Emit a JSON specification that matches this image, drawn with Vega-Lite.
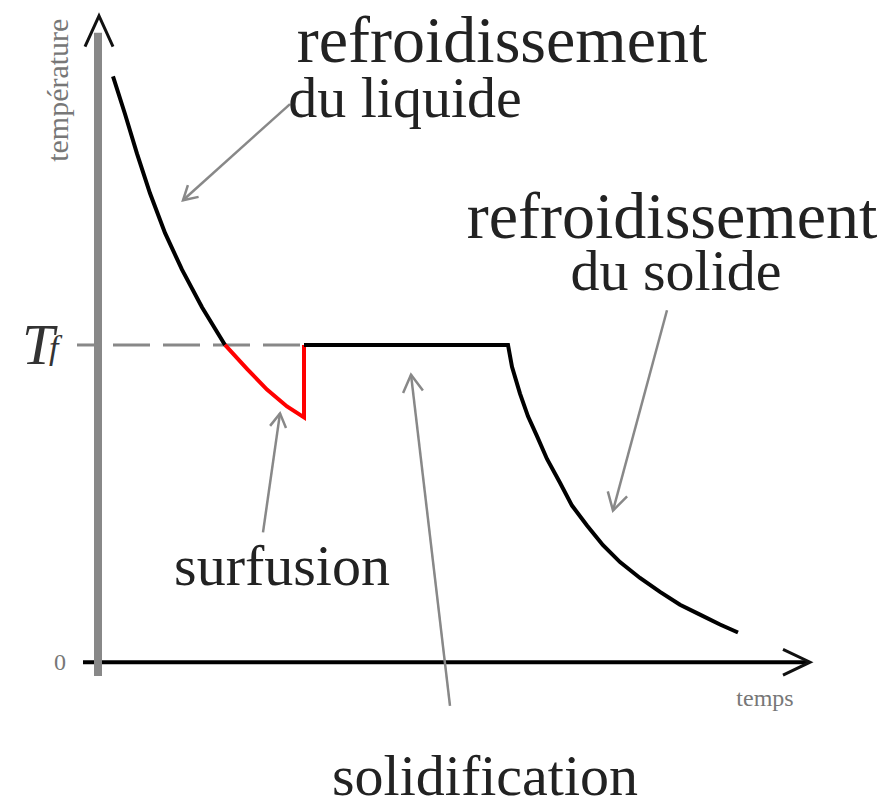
{
  "$schema": "https://vega.github.io/schema/vega-lite/v6.json",
  "width": 889,
  "height": 807,
  "autosize": {"type": "fit", "contains": "padding"},
  "padding": 0,
  "background": "white",
  "config": {"view": {"stroke": null}, "text": {"font": "Liberation Serif"}},
  "datasets": {
    "curve": [
      {"s": "liquide", "i": 1, "t": 1.5, "T": 59.1},
      {"s": "liquide", "i": 2, "t": 2.7, "T": 55.3},
      {"s": "liquide", "i": 3, "t": 3.9, "T": 51.3},
      {"s": "liquide", "i": 4, "t": 5.2, "T": 47.3},
      {"s": "liquide", "i": 5, "t": 6.7, "T": 43.3},
      {"s": "liquide", "i": 6, "t": 8.4, "T": 39.6},
      {"s": "liquide", "i": 7, "t": 10.4, "T": 35.8},
      {"s": "liquide", "i": 8, "t": 12.7, "T": 32.0},
      {"s": "surfusion", "i": 1, "t": 12.7, "T": 32.0},
      {"s": "surfusion", "i": 2, "t": 14.9, "T": 29.6},
      {"s": "surfusion", "i": 3, "t": 16.9, "T": 27.5},
      {"s": "surfusion", "i": 4, "t": 18.9, "T": 25.8},
      {"s": "surfusion", "i": 5, "t": 20.6, "T": 24.7},
      {"s": "surfusion", "i": 6, "t": 20.6, "T": 32.0},
      {"s": "solide", "i": 1, "t": 20.6, "T": 32.0},
      {"s": "solide", "i": 2, "t": 41.0, "T": 32.0},
      {"s": "solide", "i": 3, "t": 41.4, "T": 29.8},
      {"s": "solide", "i": 4, "t": 42.2, "T": 27.1},
      {"s": "solide", "i": 5, "t": 43.0, "T": 24.8},
      {"s": "solide", "i": 6, "t": 43.9, "T": 22.8},
      {"s": "solide", "i": 7, "t": 44.9, "T": 20.5},
      {"s": "solide", "i": 8, "t": 46.2, "T": 18.1},
      {"s": "solide", "i": 9, "t": 47.4, "T": 15.8},
      {"s": "solide", "i": 10, "t": 48.9, "T": 13.8},
      {"s": "solide", "i": 11, "t": 50.5, "T": 11.8},
      {"s": "solide", "i": 12, "t": 52.2, "T": 10.1},
      {"s": "solide", "i": 13, "t": 54.2, "T": 8.5},
      {"s": "solide", "i": 14, "t": 56.2, "T": 7.1},
      {"s": "solide", "i": 15, "t": 58.2, "T": 5.8},
      {"s": "solide", "i": 16, "t": 60.2, "T": 4.8},
      {"s": "solide", "i": 17, "t": 62.2, "T": 3.8},
      {"s": "solide", "i": 18, "t": 64.0, "T": 3.0}
    ],
    "strokes": [
      {"kind": "xaxis", "part": "xaxis", "i": 1, "t": -1.5, "T": 0},
      {"kind": "xaxis", "part": "xaxis", "i": 2, "t": 71.0, "T": 0},
      {"kind": "yaxis", "part": "yaxis", "i": 1, "t": 0, "T": -1.4},
      {"kind": "yaxis", "part": "yaxis", "i": 2, "t": 0, "T": 63.5},
      {"kind": "head", "part": "yhead", "i": 1, "t": -1.3, "T": 62.1},
      {"kind": "head", "part": "yhead", "i": 2, "t": 0.1, "T": 65.2},
      {"kind": "head", "part": "yhead", "i": 3, "t": 1.5, "T": 62.1},
      {"kind": "head", "part": "xhead", "i": 1, "t": 68.5, "T": 1.3},
      {"kind": "head", "part": "xhead", "i": 2, "t": 71.2, "T": 0},
      {"kind": "head", "part": "xhead", "i": 3, "t": 68.5, "T": -1.3},
      {"kind": "tick", "part": "tick", "i": 1, "t": -2.1, "T": 32},
      {"kind": "tick", "part": "tick", "i": 2, "t": 0, "T": 32},
      {"kind": "dash", "part": "dash", "i": 1, "t": 1.5, "T": 32},
      {"kind": "dash", "part": "dash", "i": 2, "t": 20.4, "T": 32},
      {"kind": "annot", "part": "liq_shaft", "i": 1, "t": 19.2, "T": 56.3},
      {"kind": "annot", "part": "liq_shaft", "i": 2, "t": 8.5, "T": 46.6},
      {"kind": "annot", "part": "liq_head", "i": 1, "t": 10.06, "T": 46.94},
      {"kind": "annot", "part": "liq_head", "i": 2, "t": 8.5, "T": 46.6},
      {"kind": "annot", "part": "liq_head", "i": 3, "t": 8.99, "T": 48.12},
      {"kind": "annot", "part": "sur_shaft", "i": 1, "t": 16.5, "T": 13.1},
      {"kind": "annot", "part": "sur_shaft", "i": 2, "t": 18.2, "T": 25.1},
      {"kind": "annot", "part": "sur_head", "i": 1, "t": 17.21, "T": 23.84},
      {"kind": "annot", "part": "sur_head", "i": 2, "t": 18.2, "T": 25.1},
      {"kind": "annot", "part": "sur_head", "i": 3, "t": 18.8, "T": 23.62},
      {"kind": "annot", "part": "sol_shaft", "i": 1, "t": 35.2, "T": -4.4},
      {"kind": "annot", "part": "sol_shaft", "i": 2, "t": 31.3, "T": 29.0},
      {"kind": "annot", "part": "sol_head", "i": 1, "t": 30.51, "T": 27.16},
      {"kind": "annot", "part": "sol_head", "i": 2, "t": 31.3, "T": 29.0},
      {"kind": "annot", "part": "sol_head", "i": 3, "t": 32.49, "T": 27.4},
      {"kind": "annot", "part": "sd_shaft", "i": 1, "t": 56.9, "T": 35.5},
      {"kind": "annot", "part": "sd_shaft", "i": 2, "t": 51.5, "T": 15.3},
      {"kind": "annot", "part": "sd_head", "i": 1, "t": 52.91, "T": 16.72},
      {"kind": "annot", "part": "sd_head", "i": 2, "t": 51.5, "T": 15.3},
      {"kind": "annot", "part": "sd_head", "i": 3, "t": 50.98, "T": 17.23}
    ],
    "labels": [
      {"g": "title", "text": "refroidissement", "t": 40.4, "T": 60.5},
      {"g": "title", "text": "refroidissement", "t": 57.4, "T": 42.8},
      {"g": "label", "text": "du liquide", "t": 30.7, "T": 55.0},
      {"g": "label", "text": "du solide", "t": 57.8, "T": 37.5},
      {"g": "label", "text": "surfusion", "t": 18.4, "T": 7.8},
      {"g": "label", "text": "solidification", "t": 38.7, "T": -13.4},
      {"g": "small", "text": "temps", "t": 66.7, "T": -4.4},
      {"g": "small", "text": "0", "t": -3.8, "T": -0.8},
      {"g": "ylab", "text": "température", "t": -3.9, "T": 57.7},
      {"g": "Tsym", "text": "T", "t": -7.6, "T": 30.1},
      {"g": "sub", "text": "f", "t": -4.9, "T": 30.6}
    ]
  },
  "encoding": {
    "x": {"field": "t", "type": "quantitative", "axis": null, "scale": {"domain": [-9.8, 79.1], "nice": false, "zero": false}},
    "y": {"field": "T", "type": "quantitative", "axis": null, "scale": {"domain": [-13.9, 66.8], "nice": false, "zero": false}}
  },
  "layer": [
    {
      "data": {"name": "strokes"},
      "transform": [{"filter": "datum.kind == 'xaxis'"}],
      "mark": {"type": "line", "color": "#000000", "strokeWidth": 4, "strokeCap": "butt"},
      "encoding": {"order": {"field": "i", "type": "quantitative"}}
    },
    {
      "data": {"name": "strokes"},
      "transform": [{"filter": "datum.kind == 'yaxis'"}],
      "mark": {"type": "line", "color": "#888888", "strokeWidth": 8, "strokeCap": "butt"},
      "encoding": {"order": {"field": "i", "type": "quantitative"}}
    },
    {
      "data": {"name": "strokes"},
      "transform": [{"filter": "datum.kind == 'tick'"}],
      "mark": {"type": "line", "color": "#888888", "strokeWidth": 3, "strokeCap": "butt"},
      "encoding": {"order": {"field": "i", "type": "quantitative"}}
    },
    {
      "data": {"name": "strokes"},
      "transform": [{"filter": "datum.kind == 'dash'"}],
      "mark": {"type": "line", "color": "#888888", "strokeWidth": 3, "strokeCap": "butt", "strokeDash": [37, 13]},
      "encoding": {"order": {"field": "i", "type": "quantitative"}}
    },
    {
      "data": {"name": "strokes"},
      "transform": [{"filter": "datum.kind == 'annot'"}],
      "mark": {"type": "line", "color": "#888888", "strokeWidth": 2.5, "strokeCap": "butt"},
      "encoding": {"detail": {"field": "part"}, "order": {"field": "i", "type": "quantitative"}}
    },
    {
      "data": {"name": "strokes"},
      "transform": [{"filter": "datum.kind == 'head'"}],
      "mark": {"type": "line", "color": "#111111", "strokeWidth": 3, "strokeJoin": "miter"},
      "encoding": {"detail": {"field": "part"}, "order": {"field": "i", "type": "quantitative"}}
    },
    {
      "data": {"name": "curve"},
      "mark": {"type": "line", "strokeWidth": 4, "interpolate": "linear", "strokeJoin": "miter"},
      "encoding": {
        "color": {"field": "s", "type": "nominal", "scale": {"domain": ["liquide", "surfusion", "solide"], "range": ["#000000", "#ff0000", "#000000"]}, "legend": null},
        "order": {"field": "i", "type": "quantitative"}
      }
    },
    {
      "data": {"name": "labels"},
      "transform": [{"filter": "datum.g == 'title'"}],
      "mark": {"type": "text", "font": "Liberation Serif", "fontSize": 66, "align": "center", "baseline": "alphabetic", "color": "#222222"},
      "encoding": {"text": {"field": "text"}}
    },
    {
      "data": {"name": "labels"},
      "transform": [{"filter": "datum.g == 'label'"}],
      "mark": {"type": "text", "font": "Liberation Serif", "fontSize": 58, "align": "center", "baseline": "alphabetic", "color": "#222222"},
      "encoding": {"text": {"field": "text"}}
    },
    {
      "data": {"name": "labels"},
      "transform": [{"filter": "datum.g == 'small'"}],
      "mark": {"type": "text", "font": "Liberation Serif", "fontSize": 24, "align": "center", "baseline": "alphabetic", "color": "#777777"},
      "encoding": {"text": {"field": "text"}}
    },
    {
      "data": {"name": "labels"},
      "transform": [{"filter": "datum.g == 'ylab'"}],
      "mark": {"type": "text", "font": "Liberation Serif", "fontSize": 30, "align": "center", "baseline": "middle", "angle": 270, "color": "#777777"},
      "encoding": {"text": {"field": "text"}}
    },
    {
      "data": {"name": "labels"},
      "transform": [{"filter": "datum.g == 'Tsym'"}],
      "mark": {"type": "text", "font": "Liberation Serif", "fontStyle": "italic", "fontSize": 58, "align": "left", "baseline": "alphabetic", "color": "#333333"},
      "encoding": {"text": {"field": "text"}}
    },
    {
      "data": {"name": "labels"},
      "transform": [{"filter": "datum.g == 'sub'"}],
      "mark": {"type": "text", "font": "Liberation Serif", "fontStyle": "italic", "fontSize": 34, "align": "left", "baseline": "alphabetic", "color": "#333333"},
      "encoding": {"text": {"field": "text"}}
    }
  ]
}
